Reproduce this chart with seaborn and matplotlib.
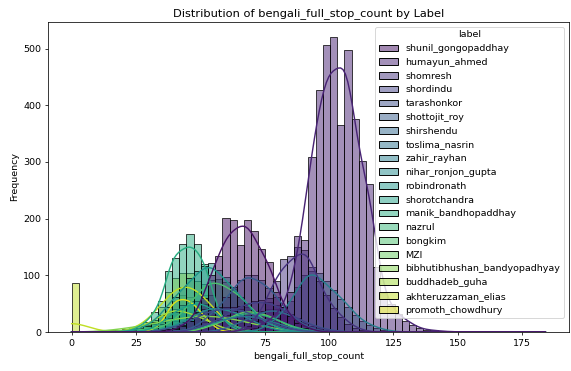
import numpy as np
import pandas as pd
import matplotlib
matplotlib.use("Agg")
import matplotlib.pyplot as plt
import seaborn as sns

# Authors in legend order
labels = [
    "shunil_gongopaddhay", "humayun_ahmed", "shomresh", "shordindu",
    "tarashonkor", "shottojit_roy", "shirshendu", "toslima_nasrin",
    "zahir_rayhan", "nihar_ronjon_gupta", "robindronath", "shorotchandra",
    "manik_bandhopaddhay", "nazrul", "bongkim", "MZI",
    "bibhutibhushan_bandyopadhyay", "buddhadeb_guha", "akhteruzzaman_elias",
    "promoth_chowdhury",
]

# Full-stop counts per document and how many documents have them, per author
shunil_gongopaddhay_counts = [40, 43, 46, 49, 52, 54, 57, 60, 63, 66, 68, 71, 74, 77, 79, 82, 85, 88, 91, 93]
shunil_gongopaddhay_freq = [5, 10, 20, 35, 60, 100, 135, 201, 197, 153, 198, 178, 147, 124, 70, 45, 28, 16, 8, 4]

humayun_ahmed_counts = [66, 68, 71, 74, 77, 79, 82, 85, 88, 91, 93, 96, 99, 102, 105, 107, 110,
                        113, 116, 118, 121, 124, 127, 130, 132, 135, 138, 141, 144, 150, 158, 184]
humayun_ahmed_freq = [3, 5, 8, 12, 18, 25, 45, 70, 169, 163, 309, 427, 506, 521, 366, 498, 375,
                      302, 262, 114, 68, 50, 32, 20, 12, 7, 4, 3, 2, 1, 1, 1]

shomresh_counts = [68, 71, 74, 77, 79, 82, 85, 88, 91, 93, 96, 99, 102, 105, 107, 110, 113]
shomresh_freq = [10, 20, 38, 60, 90, 128, 134, 150, 145, 115, 90, 65, 42, 26, 15, 8, 4]

shordindu_counts = [46, 49, 52, 54, 57, 60, 63, 66, 68, 71, 74, 77, 79, 82, 85, 88, 91, 93, 96, 99, 102]
shordindu_freq = [3, 6, 10, 15, 22, 30, 38, 46, 52, 55, 56, 53, 48, 40, 32, 24, 16, 10, 6, 3, 2]

tarashonkor_counts = [35, 38, 40, 43, 46, 49, 52, 54, 57, 60, 63, 66, 68, 71, 74, 77, 79, 82, 85, 88, 91]
tarashonkor_freq = [3, 5, 8, 13, 19, 26, 33, 39, 43, 45, 44, 40, 35, 29, 22, 16, 11, 7, 4, 2, 1]

shottojit_roy_counts = [46, 49, 52, 54, 57, 60, 63, 66, 68, 71, 74, 77, 79, 82, 85, 88, 91, 93, 96]
shottojit_roy_freq = [5, 10, 18, 30, 45, 62, 80, 92, 100, 100, 92, 78, 62, 45, 30, 18, 10, 5, 2]

shirshendu_counts = [57, 60, 63, 66, 68, 71, 74, 77, 79, 82, 85, 88, 91, 93, 96, 99, 102, 105]
shirshendu_freq = [3, 6, 10, 16, 23, 30, 36, 40, 40, 37, 31, 24, 17, 11, 7, 4, 2, 1]

toslima_nasrin_counts = [43, 46, 49, 52, 54, 57, 60, 63, 66, 68, 71, 74, 77, 79, 82, 85, 88, 91, 93]
toslima_nasrin_freq = [2, 4, 7, 11, 15, 20, 24, 28, 30, 30, 28, 25, 20, 15, 11, 7, 4, 2, 1]

zahir_rayhan_counts = [74, 77, 79, 82, 85, 88, 91, 93, 96, 99, 102, 105, 107, 110, 113, 116, 118, 121, 124]
zahir_rayhan_freq = [5, 10, 20, 35, 55, 80, 100, 108, 105, 90, 75, 58, 45, 30, 20, 12, 7, 4, 2]

nihar_ronjon_gupta_counts = [35, 38, 40, 43, 46, 49, 52, 54, 57, 60, 63, 66, 68, 71, 74, 77, 79, 82]
nihar_ronjon_gupta_freq = [3, 6, 11, 17, 25, 33, 40, 44, 45, 43, 38, 31, 24, 17, 11, 6, 3, 1]

robindronath_counts = [26, 29, 32, 35, 38, 40, 43, 46, 49, 52, 54, 57, 60, 63, 66, 68, 71, 74, 77, 79, 82, 85]
robindronath_freq = [5, 10, 18, 30, 45, 62, 80, 95, 108, 116, 122, 110, 97, 80, 62, 45, 30, 20, 12, 7, 4, 2]

shorotchandra_counts = [29, 32, 35, 38, 40, 43, 46, 49, 52, 54, 57, 60, 63, 66, 68]
shorotchandra_freq = [3, 7, 14, 24, 36, 47, 54, 55, 50, 40, 28, 18, 10, 5, 2]

manik_bandhopaddhay_counts = [24, 26, 29, 32, 35, 38, 40, 43, 46, 49, 52, 54, 57, 60, 63, 66]
manik_bandhopaddhay_freq = [3, 8, 18, 35, 55, 108, 130, 156, 173, 156, 120, 65, 35, 15, 6, 2]

nazrul_counts = [46, 49, 52, 54, 57, 60, 63, 66, 68, 71, 74, 77, 79, 82, 85, 88, 91, 93]
nazrul_freq = [3, 5, 8, 12, 17, 23, 28, 33, 35, 35, 33, 28, 22, 16, 11, 6, 3, 1]

bongkim_counts = [18, 21, 24, 26, 29, 32, 35, 38, 40, 43, 46, 49, 52, 54, 57, 60, 63, 66, 68, 71, 74, 77, 79, 82]
bongkim_freq = [2, 3, 4, 5, 5, 5, 5, 10, 20, 35, 52, 70, 84, 92, 94, 88, 76, 62, 48, 34, 22, 13, 7, 3]

MZI_counts = [49, 52, 54, 57, 60, 63, 66, 68, 71, 74, 77, 79, 82, 85, 88, 91]
MZI_freq = [3, 6, 10, 16, 23, 30, 35, 38, 38, 35, 29, 22, 15, 9, 5, 2]

bibhutibhushan_bandyopadhyay_counts = [13, 15, 18, 21, 24, 26, 29, 32, 35, 38, 40, 43, 46, 49, 52, 54, 57,
                                       60, 63, 66, 68, 71, 74, 77, 79, 82, 85]
bibhutibhushan_bandyopadhyay_freq = [2, 3, 4, 6, 8, 10, 12, 15, 18, 21, 24, 26, 28, 30, 30, 30, 29,
                                     27, 24, 21, 17, 13, 10, 7, 5, 3, 1]

buddhadeb_guha_counts = [24, 26, 29, 32, 35, 38, 40, 43, 46, 49, 52, 54, 57, 60, 63]
buddhadeb_guha_freq = [4, 8, 14, 22, 30, 37, 40, 40, 36, 30, 22, 15, 9, 5, 2]

akhteruzzaman_elias_counts = [0, 26, 29, 32, 35, 38, 40, 43, 46, 49, 52, 54, 57, 60, 63]
akhteruzzaman_elias_freq = [87, 4, 10, 22, 45, 70, 95, 105, 105, 90, 65, 40, 20, 9, 4]

promoth_chowdhury_counts = [32, 35, 38, 40, 43, 46, 49, 52, 54, 57]
promoth_chowdhury_freq = [5, 15, 35, 55, 65, 62, 45, 25, 10, 4]

author_tables = {
    "shunil_gongopaddhay": (shunil_gongopaddhay_counts, shunil_gongopaddhay_freq),
    "humayun_ahmed": (humayun_ahmed_counts, humayun_ahmed_freq),
    "shomresh": (shomresh_counts, shomresh_freq),
    "shordindu": (shordindu_counts, shordindu_freq),
    "tarashonkor": (tarashonkor_counts, tarashonkor_freq),
    "shottojit_roy": (shottojit_roy_counts, shottojit_roy_freq),
    "shirshendu": (shirshendu_counts, shirshendu_freq),
    "toslima_nasrin": (toslima_nasrin_counts, toslima_nasrin_freq),
    "zahir_rayhan": (zahir_rayhan_counts, zahir_rayhan_freq),
    "nihar_ronjon_gupta": (nihar_ronjon_gupta_counts, nihar_ronjon_gupta_freq),
    "robindronath": (robindronath_counts, robindronath_freq),
    "shorotchandra": (shorotchandra_counts, shorotchandra_freq),
    "manik_bandhopaddhay": (manik_bandhopaddhay_counts, manik_bandhopaddhay_freq),
    "nazrul": (nazrul_counts, nazrul_freq),
    "bongkim": (bongkim_counts, bongkim_freq),
    "MZI": (MZI_counts, MZI_freq),
    "bibhutibhushan_bandyopadhyay": (bibhutibhushan_bandyopadhyay_counts, bibhutibhushan_bandyopadhyay_freq),
    "buddhadeb_guha": (buddhadeb_guha_counts, buddhadeb_guha_freq),
    "akhteruzzaman_elias": (akhteruzzaman_elias_counts, akhteruzzaman_elias_freq),
    "promoth_chowdhury": (promoth_chowdhury_counts, promoth_chowdhury_freq),
}

# One row per document
frames = []
for name in labels:
    vals, freq = author_tables[name]
    frames.append(pd.DataFrame({
        "bengali_full_stop_count": np.repeat(vals, freq),
        "label": name,
    }))
df = pd.concat(frames, ignore_index=True)

DPI = 68.5
fig = plt.figure(figsize=(571 / DPI, 371 / DPI))
ax = fig.add_axes([0.084, 0.105, 0.9125, 0.836])
sns.histplot(
    data=df, x="bengali_full_stop_count", hue="label", hue_order=labels,
    palette="viridis", kde=True, kde_kws={"bw_adjust": 1.6},
    bins=66, binrange=(0, 184), ax=ax,
)
ax.set_title("Distribution of bengali_full_stop_count by Label")
ax.set_xlabel("bengali_full_stop_count")
ax.set_ylabel("Frequency")
sns.move_legend(ax, "upper right")

fig.savefig("out.png", dpi=DPI)
